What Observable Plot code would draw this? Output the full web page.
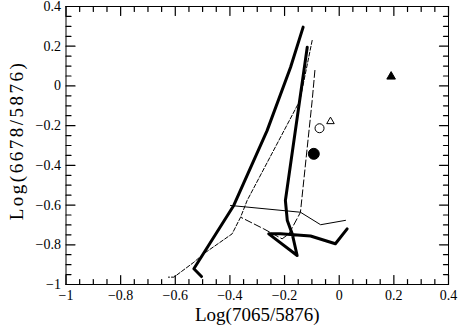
<!DOCTYPE html>
<html><head><meta charset="utf-8">
<script src="https://cdn.jsdelivr.net/npm/d3@7"></script>
<script src="https://cdn.jsdelivr.net/npm/@observablehq/plot@0.6"></script>
<style>body{margin:0;background:#fff} #chart{width:460px;height:332px}</style>
</head><body><div id="chart"></div>
<script>
// Thick solid line (left branch)
const thickA_x = [-0.504, -0.532, -0.386, -0.264, -0.178, -0.132];
const thickA_y = [-0.960, -0.921, -0.602, -0.225, 0.094, 0.296];
// Thick solid line (right branch)
const thickB_x = [-0.117, -0.197, -0.190, -0.172, -0.154, -0.258, -0.215, -0.105, -0.014, 0.029];
const thickB_y = [0.195, -0.577, -0.678, -0.745, -0.854, -0.745, -0.745, -0.756, -0.795, -0.720];
// Thin solid line
const thin_x = [-0.398, -0.142, -0.068, 0.023];
const thin_y = [-0.602, -0.636, -0.699, -0.677];
// Long-dashed line
const dash_x = [-0.089, -0.099, -0.142, -0.184, -0.209, -0.276, -0.358];
const dash_y = [0.078, -0.074, -0.637, -0.745, -0.770, -0.720, -0.663];
// Dash-dot line
const dot_x = [-0.099, -0.144, -0.337, -0.361, -0.392, -0.496, -0.532, -0.605, -0.625];
const dot_y = [0.229, -0.074, -0.577, -0.661, -0.745, -0.845, -0.888, -0.963, -0.963];
// Individual points
const pt_x = [-0.072, -0.032, -0.093, 0.190];
const pt_y = [-0.213, -0.179, -0.342, 0.047];
const pt_symbol = ["circle", "triangle", "circle", "triangle"];
const pt_fill = ["none", "none", "black", "black"];
const pt_r = [4.5, 2.8, 5.5, 3.2];

const xDomain = [-1, 0.4];
const yDomain = [-1, 0.4];
const xMajor = [-1, -0.8, -0.6, -0.4, -0.2, 0, 0.2, 0.4];
const xMinor = [-0.95,-0.9,-0.85,-0.75,-0.7,-0.65,-0.55,-0.5,-0.45,-0.35,-0.3,-0.25,-0.15,-0.1,-0.05,0.05,0.1,0.15,0.25,0.3,0.35];
const yMajor = [-1, -0.8, -0.6, -0.4, -0.2, 0, 0.2, 0.4];
const yMinor = [-0.95,-0.9,-0.85,-0.75,-0.7,-0.65,-0.55,-0.5,-0.45,-0.35,-0.3,-0.25,-0.15,-0.1,-0.05,0.05,0.1,0.15,0.25,0.3,0.35];

const xLabel = "Log(7065/5876)";
const yLabel = "Log(6678/5876)";

const W = 460, H = 332, ML = 65.5, MR = 12, MT = 6, MB = 48;
const fmt = d => (d < 0 ? "\u2212" : "") + String(Math.abs(d));

const toPts = (xs, ys) => xs.map((x, i) => ({x, y: ys[i]}));
const points = pt_x.map((x, i) => ({x, y: pt_y[i], s: pt_symbol[i], f: pt_fill[i], r: pt_r[i]}));

// inward tick as a vector anchored on the frame edge (rotate: 0 = up)
const tickShape = {draw(ctx, l) { ctx.moveTo(0, 0); ctx.lineTo(0, -l); }};
const vx = (vals, len, edge, rot) => Plot.vector(vals, {x: d => d, y: () => edge, length: len, rotate: rot, anchor: "start", shape: tickShape, stroke: "black", strokeWidth: 1.2});
const vy = (vals, len, edge, rot) => Plot.vector(vals, {y: d => d, x: () => edge, length: len, rotate: rot, anchor: "start", shape: tickShape, stroke: "black", strokeWidth: 1.2});

const plot = Plot.plot({
  width: W, height: H,
  marginLeft: ML, marginRight: MR, marginTop: MT, marginBottom: MB,
  x: {domain: xDomain, axis: null},
  y: {domain: yDomain, axis: null},
  symbol: {type: "identity"},
  r: {type: "identity"},
  style: {fontFamily: "Liberation Serif, DejaVu Serif, serif", fontSize: "14px", color: "black"},
  marks: [
    Plot.frame({stroke: "black"}),
    vx(xMajor, 9, yDomain[0], 0),
    vx(xMinor, 5, yDomain[0], 0),
    vx(xMajor, 9, yDomain[1], 180),
    vx(xMinor, 5, yDomain[1], 180),
    vy(yMajor, 9, xDomain[0], 90),
    vy(yMinor, 5, xDomain[0], 90),
    vy(yMajor, 9, xDomain[1], 270),
    vy(yMinor, 5, xDomain[1], 270),
    Plot.line(toPts(thin_x, thin_y), {x: "x", y: "y", stroke: "black", strokeWidth: 1}),
    Plot.line(toPts(dash_x, dash_y), {x: "x", y: "y", stroke: "black", strokeWidth: 1, strokeDasharray: "7,3"}),
    Plot.line(toPts(dot_x, dot_y), {x: "x", y: "y", stroke: "black", strokeWidth: 1, strokeDasharray: "4,2"}),
    Plot.line(toPts(thickA_x, thickA_y), {x: "x", y: "y", stroke: "black", strokeWidth: 3}),
    Plot.line(toPts(thickB_x, thickB_y), {x: "x", y: "y", stroke: "black", strokeWidth: 3}),
    Plot.dot(points, {x: "x", y: "y", symbol: "s", r: "r", fill: "f", stroke: "black", strokeWidth: 1}),
    // tick labels and titles
    Plot.text(xMajor, {x: d => d, frameAnchor: "bottom", dy: 11, text: fmt, fontSize: 14, lineAnchor: "middle"}),
    Plot.text(yMajor, {y: d => d, frameAnchor: "left", dx: -5, text: fmt, fontSize: 14, textAnchor: "end"}),
    Plot.text([xLabel], {frameAnchor: "bottom", dy: 36, fontSize: 19, text: d => d}),
    Plot.text([yLabel], {frameAnchor: "left", dx: -49.5, dy: -5, rotate: -90, fontSize: 19, textAnchor: "middle", text: d => d})
  ]
});
document.getElementById("chart").appendChild(plot);
// widen the rotated axis title as in the reference
plot.querySelectorAll("text").forEach(t => { if (t.textContent === yLabel) t.setAttribute("letter-spacing", "2.5"); });
</script>
</body></html>
